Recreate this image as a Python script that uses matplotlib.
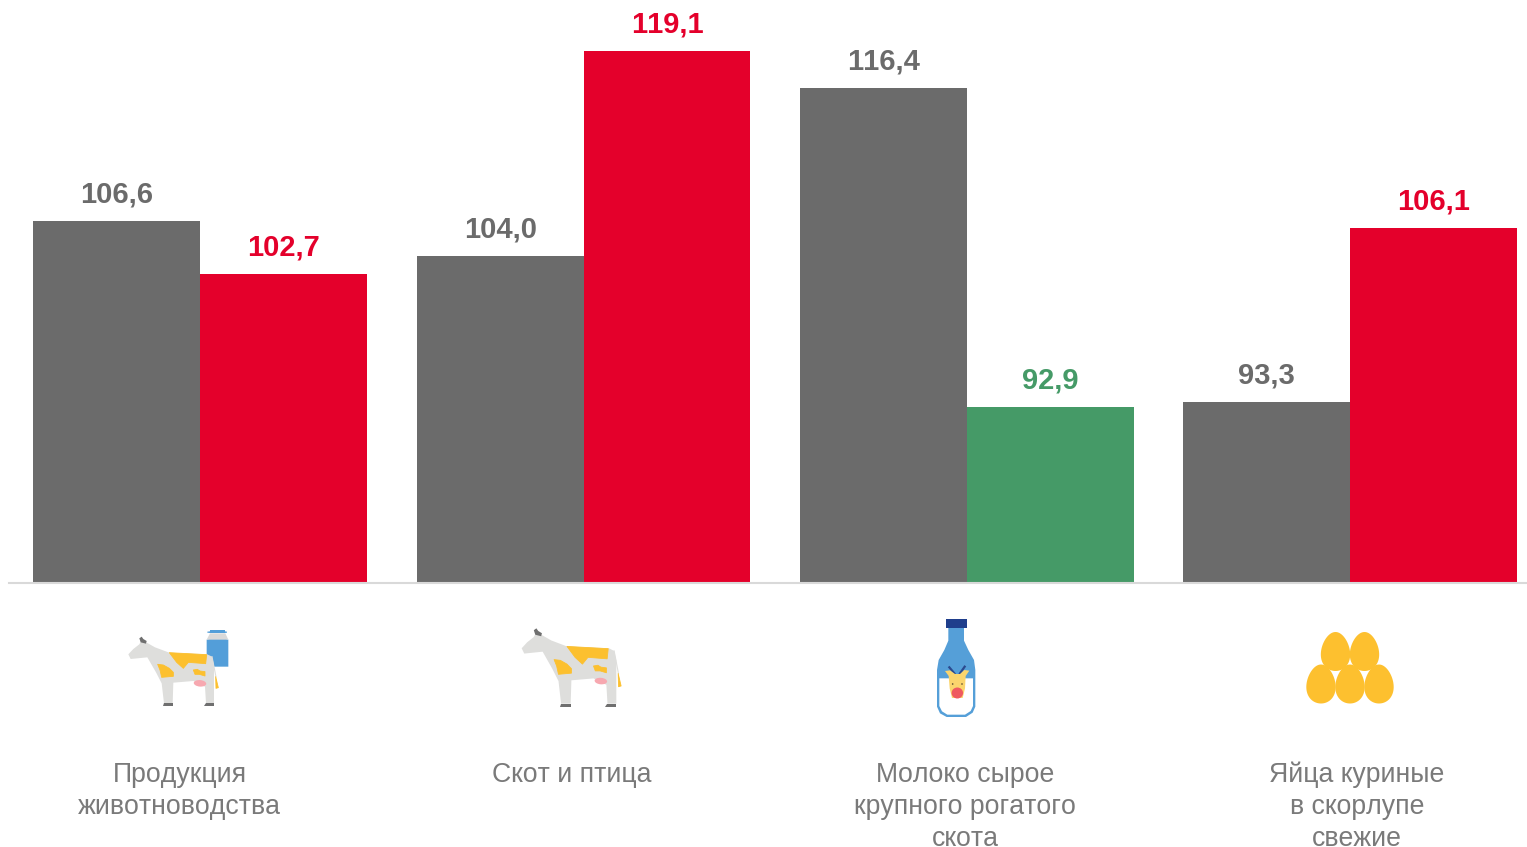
import numpy as np
import matplotlib
matplotlib.use("Agg")
import matplotlib.pyplot as plt
from matplotlib.patches import Polygon, Ellipse, Rectangle

plt.rcParams['font.family'] = ['Liberation Sans', 'DejaVu Sans']
plt.rcParams['text.kerning_factor'] = 6

# ---- data ----
categories = ["Продукция\nживотноводства", "Скот и птица",
              "Молоко сырое\nкрупного рогатого\nскота", "Яйца куриные\nв скорлупе\nсвежие"]
prev_values = [106.6, 104.0, 116.4, 93.3]
curr_values = [102.7, 119.1, 92.9, 106.1]
prev_labels = ["106,6", "104,0", "116,4", "93,3"]
curr_labels = ["102,7", "119,1", "92,9", "106,1"]
GREY, RED, GREEN = "#6b6b6b", "#e4002b", "#459a67"
curr_colors = [RED, RED, GREEN, RED]

W, H = 1527, 847
fig = plt.figure(figsize=(W / 100, H / 100), dpi=100, facecolor="white")

BASE_PX, PX_PER_UNIT, GROUP_PX, FIRST_PX, BAR_PX = 582.5, 13.59, 383.35, 200.2, 166.8
ax = fig.add_axes([0, (H - BASE_PX) / H, 1, BASE_PX / H])
ax.set_ylim(80, 80 + BASE_PX / PX_PER_UNIT)
ax.set_xlim(-FIRST_PX / GROUP_PX, (W - FIRST_PX) / GROUP_PX)
w = BAR_PX / GROUP_PX
x = np.arange(len(categories))
b1 = ax.bar(x - w / 2, prev_values, w, color=GREY, linewidth=0)
b2 = ax.bar(x + w / 2, curr_values, w, color=curr_colors, linewidth=0)
for r, lab in zip(b1, prev_labels):
    ax.annotate(lab, (r.get_x() + r.get_width() / 2, r.get_height()), xytext=(0, 12.5),
                textcoords="offset pixels", ha="center", va="bottom", fontsize=21,
                fontweight="bold", color=GREY)
for r, lab, c in zip(b2, curr_labels, curr_colors):
    ax.annotate(lab, (r.get_x() + r.get_width() / 2, r.get_height()), xytext=(0, 12.5),
                textcoords="offset pixels", ha="center", va="bottom", fontsize=21,
                fontweight="bold", color=c)
for s in ("top", "left", "right"):
    ax.spines[s].set_visible(False)
ax.spines["bottom"].set_color("#d9d9d9")
ax.spines["bottom"].set_linewidth(1.5)
ax.spines["bottom"].set_bounds((9 - FIRST_PX) / GROUP_PX, (W - FIRST_PX) / GROUP_PX)
ax.set_xticks([])
ax.set_yticks([])
ax.patch.set_alpha(0)

ov = fig.add_axes([0, 0, 1, 1])
ov.set_xlim(0, W)
ov.set_ylim(H, 0)
ov.axis("off")
ov.patch.set_alpha(0)

label_x = [179.5, 572, 965, 1357]
for cx, cat in zip(label_x, categories):
    for i, line in enumerate(cat.split("\n")):
        ov.text(cx, 782 + 32 * i, line, ha="center", va="baseline", fontsize=19.2, color="#7a7a7a")


def cow(tx):
    body = [(55, 118), (70, 102), (88, 88), (92, 80), (112, 84), (135, 97), (178, 113), (292, 118),
            (306, 125), (312, 150), (312, 265), (288, 265), (285, 215), (250, 198), (190, 203),
            (188, 265), (162, 265), (155, 205), (138, 172), (112, 127), (62, 132)]
    ov.add_patch(Polygon(tx(body), fc="#dededc", ec="none", zorder=3))
    ye = "#fcc02f"
    for poly in ([(178, 113), (290, 119), (287, 146), (235, 142), (220, 160), (200, 142)],
                 [(143, 148), (160, 150), (178, 160), (190, 172), (190, 184), (155, 187), (150, 165)],
                 [(250, 165), (262, 163), (270, 168), (285, 170), (285, 183), (268, 178), (255, 178)],
                 [(317, 185), (325, 218), (318, 220)]):
        ov.add_patch(Polygon(tx(poly), fc=ye, ec=ye, lw=0.6, joinstyle="round", zorder=4))
    ux, uy = tx([(270, 205)])[0]
    ov.add_patch(Ellipse((ux, uy), 12.5, 6.5, angle=5, fc="#f7a8b0", ec="none", zorder=4))
    for poly in ([(162, 265), (188, 265), (188, 273), (158, 273)],
                 [(288, 265), (312, 265), (312, 273), (282, 273)],
                 [(88, 70), (95, 65), (100, 72), (110, 78), (108, 86), (92, 82)]):
        ov.add_patch(Polygon(tx(poly), fc="#6f6f6f", ec="none", zorder=4))
    t = tx([(306, 125), (318, 186)])
    ov.plot([t[0][0], t[1][0]], [t[0][1], t[1][1]], color="#dededc", lw=0.8, zorder=2.5)


def tx1(pts):
    return [(110 + a / 3, 615 + b / 3) for a, b in pts]


def tx2(pts):
    return [(505 + (50 + (a - 55) * 1.105) / 3, 615 + (40 + (b - 65) * 1.13) / 3) for a, b in pts]


cow(tx1)
cow(tx2)

# milk can
ov.add_patch(Polygon(tx1([(290, 74), (298, 72), (348, 72), (355, 74), (355, 155), (290, 155)]),
                     fc="#539ed9", ec="none", zorder=2))
ov.add_patch(Polygon(tx1([(290, 74), (300, 55), (346, 55), (355, 74)]), fc="#d9d9d9", ec="none", zorder=2))
ov.add_patch(Polygon(tx1([(300, 45), (345, 45), (345, 49), (351, 50), (351, 53), (345, 54), (300, 54),
                          (292, 53), (292, 50), (300, 49)]), fc="#539ed9", ec="none", zorder=3))


def tx3(pts):
    return [(900 + a / 3, 610 + b / 3) for a, b in pts]


outer = [(145, 53), (192, 53), (192, 92), (205, 120), (222, 150), (226, 180), (226, 290), (218, 308),
         (198, 321), (140, 321), (120, 310), (111, 290), (111, 180), (116, 150), (133, 120), (145, 92)]
ov.add_patch(Polygon(tx3(outer), fc="#559fd8", ec="none", zorder=2))
inner = [(118, 205), (219, 205), (219, 288), (212, 303), (195, 314), (142, 314), (126, 304), (118, 288)]
ov.add_patch(Polygon(tx3(inner), fc="white", ec="none", zorder=3))
ov.add_patch(Polygon(tx3([(138, 28), (200, 28), (200, 53), (138, 53)]), fc="#1f3e8c", ec="none", zorder=3))
head = [(135, 183), (150, 181), (165, 192), (180, 192), (193, 180), (208, 182), (197, 198), (195, 235),
        (188, 264), (156, 264), (149, 235), (146, 198)]
ov.add_patch(Polygon(tx3(head), fc="#fbd56d", ec="none", zorder=4))
for hx in ([(148, 172), (163, 190)], [(194, 170), (180, 190)]):
    p = tx3(hx)
    ov.plot([p[0][0], p[1][0]], [p[0][1], p[1][1]], color="#2b4a8f", lw=1.6, zorder=3.5)
for ex in [(158, 222), (186, 222)]:
    p = tx3([ex])[0]
    ov.add_patch(Ellipse(p, 1.6, 1.6, fc="#5a4a30", ec="none", zorder=5))
nx, ny = tx3([(172, 249)])[0]
ov.add_patch(Ellipse((nx, ny), 11.5, 11, fc="#ef5a60", ec="none", zorder=5))


def egg(cx, cy, hw=14.5, hh=19.5):
    t = np.linspace(0, 2 * np.pi, 80)
    ex = hw * np.sin(t) * (1 - 0.16 * np.cos(t))
    ey = -hh * np.cos(t)
    ov.add_patch(Polygon(np.c_[cx + ex, cy + ey], fc="#fdc02f", ec="none", zorder=3))


for cx, cy in [(1335.5, 651.5), (1364.5, 651.5), (1321, 684), (1350, 684), (1379, 684)]:
    egg(cx, cy)

fig.savefig("out.png", dpi=100)
